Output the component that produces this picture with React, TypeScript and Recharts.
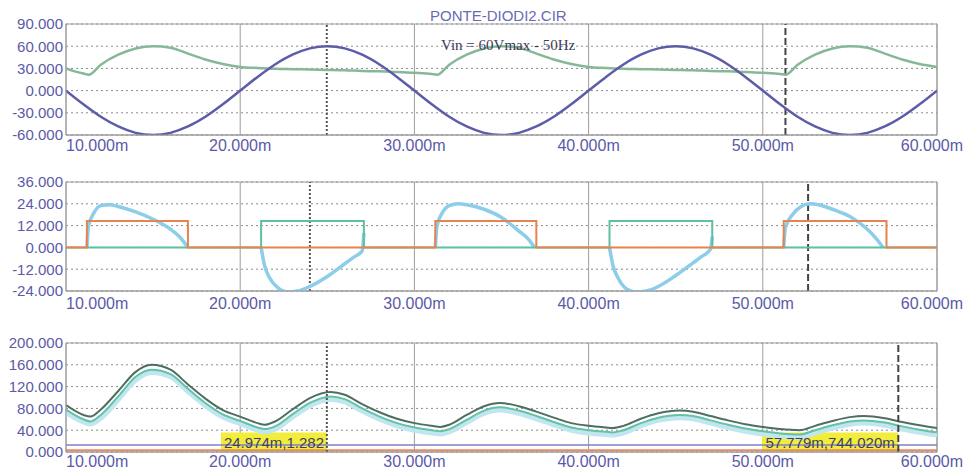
import React from 'react';
import { LineChart, Line, XAxis, YAxis, CartesianGrid, ReferenceLine, ReferenceArea } from 'recharts';

// tick values (ms on x)
const xTicks = [10, 20, 30, 40, 50, 60];
const vinTicks = [-60, -30, 0, 30, 60, 90];
const diodeTicks = [-24, -12, 0, 12, 24, 36];
const powerTicks = [0, 40, 80, 120, 160, 200];

// panel 1 - input sine and filtered output
const vinTime = [10, 11, 12, 13, 14, 15, 16, 17, 18, 19, 20, 21, 22, 23, 24, 25, 26, 27, 28, 29, 30, 31, 32, 33, 34, 35, 36, 37, 38, 39, 40, 41, 42, 43, 44, 45, 46, 47, 48, 49, 50, 51, 52, 53, 54, 55, 56, 57, 58, 59, 60];
const vinValues = [0, -18.5, -35.3, -48.5, -57.1, -60, -57.1, -48.5, -35.3, -18.5, 0, 18.5, 35.3, 48.5, 57.1, 60, 57.1, 48.5, 35.3, 18.5, 0, -18.5, -35.3, -48.5, -57.1, -60, -57.1, -48.5, -35.3, -18.5, 0, 18.5, 35.3, 48.5, 57.1, 60, 57.1, 48.5, 35.3, 18.5, 0, -18.5, -35.3, -48.5, -57.1, -60, -57.1, -48.5, -35.3, -18.5, 0];
const outTime = [10, 10.5, 11, 11.3, 12, 13, 14, 15, 16, 17, 18, 19, 20, 21, 22, 23, 24, 25, 26, 27, 28, 29, 30, 31, 31.3, 32, 33, 34, 35, 36, 37, 38, 39, 40, 41, 42, 43, 44, 45, 46, 47, 48, 49, 50, 51, 51.3, 52, 53, 54, 55, 56, 57, 58, 59, 60];
const outValues = [30, 26, 23, 21.5, 35, 48.5, 57, 60, 58, 50, 42, 36, 32, 30.5, 29.5, 29, 28.5, 28, 27.5, 26.5, 26, 25, 24, 22.5, 21.5, 35, 48.5, 57, 60, 58, 50, 42, 36, 32, 30.5, 29.5, 29, 28.5, 28, 27.5, 26.5, 26, 25, 24, 22.5, 21.5, 35, 48.5, 57, 60, 58, 50, 42, 36, 32];

// panel 2 - diode voltages / current
const d1Time = [10, 11.2, 11.2, 17, 17, 31.2, 31.2, 37, 37, 51.2, 51.2, 57.1, 57.1, 60];
const d1Values = [0, 0, 14.5, 14.5, 0, 0, 14.5, 14.5, 0, 0, 14.5, 14.5, 0, 0];
const d2Time = [10, 21.2, 21.2, 27.1, 27.1, 41.2, 41.2, 47.1, 47.1, 60];
const d2Values = [0, 0, 14.5, 14.5, 0, 0, 14.5, 14.5, 0, 0];
const iTime = [11.2, 11.3, 11.6, 12, 12.5, 13, 14, 15, 16, 16.5, 17, 19,
  21.2, 21.4, 21.7, 22.2, 22.7, 23.3, 24, 25, 26, 26.5, 27, 27.1, 29,
  31.2, 31.3, 31.6, 32, 32.5, 33, 34, 35, 36, 36.5, 36.9, 39,
  41.2, 41.4, 41.7, 42.2, 42.7, 43.3, 44, 45, 46, 46.5, 47, 47.1, 49,
  51.2, 51.3, 51.7, 52.2, 52.7, 53.2, 54, 55, 56, 56.5, 56.9];
const iValues = [0, 12, 19, 23, 23.5, 22.5, 19.5, 15.5, 10, 6, 0, null,
  0, -10, -17, -22.5, -24.5, -24, -21.5, -16, -9, -5.5, -2, 8, null,
  0, 12, 19, 23, 24, 23.5, 21, 16.5, 9, 5, 0, null,
  0, -10, -17, -23, -24.5, -24, -21.5, -15.5, -8.5, -5, -1, 6, null,
  0, 11, 18, 22.5, 24, 23.5, 21, 17, 10, 5, 0];

// panel 3 - power
const pTime = [10, 11, 11.4, 12, 13, 14, 14.9, 16, 17, 18, 19, 20, 21, 21.4, 22, 23, 24, 25.2, 26, 27, 28, 29, 30, 31, 31.5, 32, 33, 34, 34.9, 36, 37, 38, 39, 40, 41, 41.4, 42, 43, 44, 45.2, 46, 47, 48, 49, 50, 51, 52.1, 53, 54, 55, 55.8, 57, 58, 59, 60];
const pTotal = [86, 68, 65, 78, 112, 147, 160, 151, 124, 98, 77, 65, 53, 50, 56, 78, 99, 110, 105, 88, 73, 61, 53, 48, 46, 50, 68, 84, 90, 84, 74, 63, 53, 48, 45, 44, 48, 61, 71, 76, 74, 66, 58, 51, 46, 42, 40, 48, 57, 64, 66, 62, 55, 49, 44];
const pLoad = [78, 60, 56, 68, 102, 138, 151, 143, 116, 90, 69, 57, 45, 42, 47, 69, 90, 102, 97, 80, 65, 53, 45, 40, 38, 42, 59, 76, 82, 76, 66, 55, 45, 40, 37, 36, 40, 53, 63, 68, 66, 58, 50, 43, 38, 34, 32, 40, 49, 56, 58, 54, 47, 41, 36];
const pCap = [73, 55, 51, 62, 96, 132, 146, 138, 111, 85, 64, 52, 40, 37, 42, 64, 85, 97, 92, 75, 60, 48, 40, 35, 33, 37, 54, 71, 77, 71, 61, 50, 40, 35, 32, 31, 35, 48, 58, 63, 61, 53, 45, 38, 33, 29, 27, 35, 44, 51, 53, 49, 42, 36, 31];
const flatTime = [10, 60];
const pDiodeA = [13, 13];
const pDiodeB = [3, 3];

// cursors
const cursorsTop = [24.97, 51.3];
const cursorsMid = [24.0, 52.6];
const cursorsBot = [24.974, 57.779];
const cursorLabels = ['24.974m,1.282', '57.779m,744.020m'];
const labelStart = [18.9, 49.95];

const zip = (ts: number[], vs: (number | null)[]) => ts.map((t, i) => ({ t, v: vs[i] }));

const tickColor = '#5a5aa8';
const gridColor = '#9c9c9c';

const fmtY = (v: number) => v.toFixed(3);

const makeXTick = (off: number) => (props: any) => {
  const { x, y, payload, index } = props;
  const last = index === xTicks.length - 1;
  return (
    <text x={last ? x + 26 : x} y={y + off} dominantBaseline="central"
      textAnchor={index === 0 ? 'start' : last ? 'end' : 'middle'}
      fill={tickColor} fontSize={16} fontFamily="'Liberation Sans', Arial, sans-serif">
      {payload.value.toFixed(3) + 'm'}
    </text>
  );
};

const axes = (yTicks: number[], xOff: number, xH: number) => [
  <CartesianGrid key="gv" horizontal={false} stroke={gridColor} />,
  <CartesianGrid key="gh" vertical={false} stroke="#8a8a8a" strokeDasharray="2 3" />,
  <XAxis key="x" type="number" dataKey="t" domain={[10, 60]} ticks={xTicks} allowDataOverflow
    height={xH} tickSize={0} tickMargin={0} axisLine={{ stroke: gridColor }} tick={makeXTick(xOff)} interval={0} />,
  <YAxis key="y" type="number" domain={[yTicks[0], yTicks[yTicks.length - 1]]} ticks={yTicks} allowDataOverflow
    width={66} tickSize={0} tickMargin={3} tickFormatter={fmtY} axisLine={{ stroke: gridColor }} interval={0}
    tick={{ fill: tickColor, fontSize: 15, fontFamily: "'Liberation Sans', Arial, sans-serif" }} />,
  <ReferenceLine key="bt" y={yTicks[yTicks.length - 1]} stroke={gridColor} />,
  <ReferenceLine key="bb" y={yTicks[0]} stroke={gridColor} />,
  <ReferenceLine key="br" x={60} stroke={gridColor} />,
];

const cursorLines = (c: number[]) => [
  <ReferenceLine key="c0" x={c[0]} stroke="#555" strokeWidth={2} strokeDasharray="2 2" />,
  <ReferenceLine key="c1" x={c[1]} stroke="#444" strokeWidth={2} strokeDasharray="7 3" />,
];

const W = 964;
const margin = (top: number) => ({ top, right: 27, left: 0, bottom: 0 });

export default function App() {
  return (
    <div style={{ position: 'absolute', left: 0, top: 0, width: W, height: 468, background: '#fff', overflow: 'hidden' }}>
      <div style={{ position: 'absolute', top: 0, left: 0 }}>
        <LineChart width={W} height={160} margin={margin(24)}>
          {axes(vinTicks, 10, 25)}
          {cursorLines(cursorsTop)}
          <Line data={zip(outTime, outValues)} dataKey="v" type="monotone" stroke="#86b898" strokeWidth={2.5} dot={false} isAnimationActive={false} />
          <Line data={zip(vinTime, vinValues)} dataKey="v" type="monotone" stroke="#5c5ca8" strokeWidth={2.5} dot={false} isAnimationActive={false} />
        </LineChart>
      </div>
      <div style={{ position: 'absolute', top: 160, left: 0 }}>
        <LineChart width={W} height={160} margin={margin(22)}>
          {axes(diodeTicks, 12, 29)}
          {cursorLines(cursorsMid)}
          <Line data={zip(iTime, iValues)} dataKey="v" type="monotone" stroke="#8ccdea" strokeWidth={3.5} dot={false} connectNulls={false} isAnimationActive={false} />
          <Line data={zip(d2Time, d2Values)} dataKey="v" type="linear" stroke="#5cc0a2" strokeWidth={2} dot={false} isAnimationActive={false} />
          <Line data={zip(d1Time, d1Values)} dataKey="v" type="linear" stroke="#e6834e" strokeWidth={2} dot={false} isAnimationActive={false} />
        </LineChart>
      </div>
      <div style={{ position: 'absolute', top: 320, left: 0 }}>
        <LineChart width={W} height={148} margin={margin(23)}>
          {axes(powerTicks, 9, 16)}
          <Line data={zip(pTime, pCap)} dataKey="v" type="monotone" stroke="#c2e6f0" strokeWidth={5} dot={false} isAnimationActive={false} />
          <Line data={zip(pTime, pLoad)} dataKey="v" type="monotone" stroke="#62c2a6" strokeWidth={2} dot={false} isAnimationActive={false} />
          <Line data={zip(pTime, pTotal)} dataKey="v" type="monotone" stroke="#4f6e60" strokeWidth={2} dot={false} isAnimationActive={false} />
          <Line data={zip(flatTime, pDiodeA)} dataKey="v" type="linear" stroke="#8080c8" strokeWidth={1.5} dot={false} isAnimationActive={false} />
          <Line data={zip(flatTime, pDiodeB)} dataKey="v" type="linear" stroke="#e88a62" strokeWidth={2} dot={false} isAnimationActive={false} />
          {cursorLines(cursorsBot)}
          {cursorsBot.map((c, i) => (
            <ReferenceArea key={'a' + i} x1={labelStart[i]} x2={c} y1={0} y2={36} fill="#f2ec3a" fillOpacity={1} stroke="none"
              label={{ value: cursorLabels[i], position: 'center', fill: '#3e3e6e', fontSize: 15, fontFamily: "'Liberation Sans', Arial, sans-serif" }} />
          ))}
        </LineChart>
      </div>
      <div style={{ position: 'absolute', left: 430, top: 8, fontFamily: "'Liberation Sans', Arial, sans-serif", fontSize: 15, color: '#6a6ab4', lineHeight: '15px' }}>
        PONTE-DIODI2.CIR
      </div>
      <div style={{ position: 'absolute', left: 441, top: 37, fontFamily: "'Liberation Serif', 'Times New Roman', serif", fontSize: 15, color: '#3c3c5c', lineHeight: '16px' }}>
        Vin = 60Vmax - 50Hz
      </div>
    </div>
  );
}
